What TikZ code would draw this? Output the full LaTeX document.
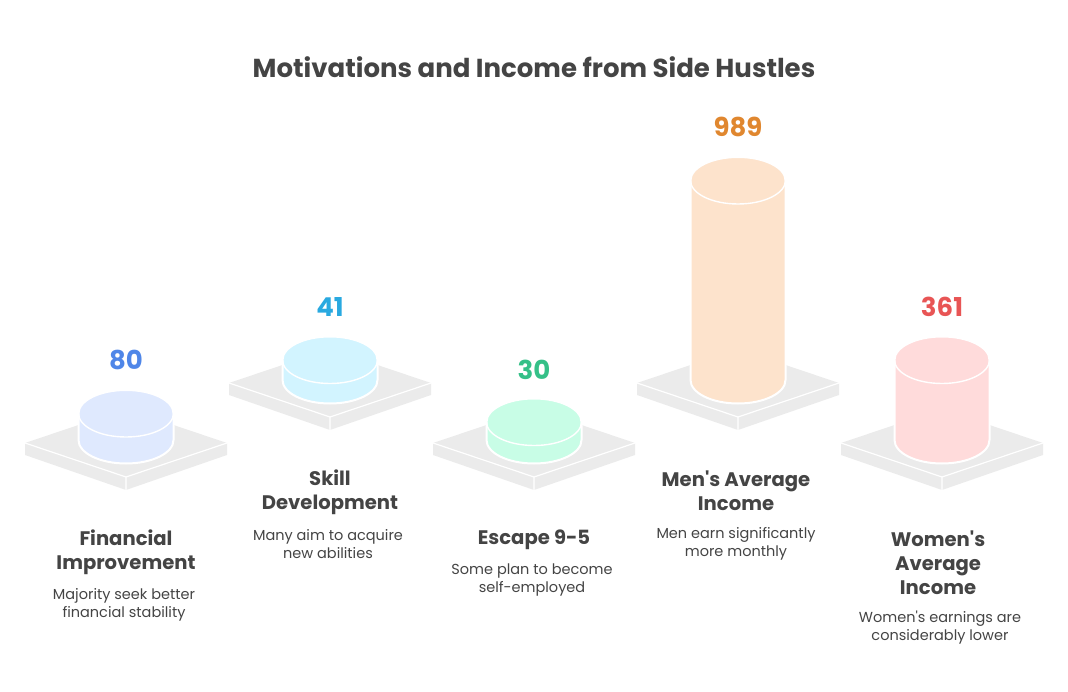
\documentclass[tikz,border=0pt]{standalone}
\usepackage{fontspec}
\setmainfont{Poppins}
\usepackage{xcolor}
\usetikzlibrary{positioning}
\definecolor{inkgray}{HTML}{444444}
\definecolor{platefill}{HTML}{EBEBEB}
\definecolor{blueval}{HTML}{4F86E8}
\definecolor{bluefill}{HTML}{DFE9FE}
\definecolor{cyanval}{HTML}{29A9E0}
\definecolor{cyanfill}{HTML}{D2F4FF}
\definecolor{greenval}{HTML}{35C088}
\definecolor{greenfill}{HTML}{C8FDE6}
\definecolor{orangeval}{HTML}{E0872F}
\definecolor{orangefill}{HTML}{FDE3CC}
\definecolor{redval}{HTML}{E85555}
\definecolor{redfill}{HTML}{FFDBDB}
\tikzset{
  barbody/.style={draw=white, line width=2pt},
  valuelabel/.style={font=\fontsize{26}{28}\selectfont\bfseries, inner sep=0pt},
  headlabel/.style={font=\fontsize{19.6}{24}\selectfont\bfseries, text=inkgray, align=center, inner sep=0pt},
  desclabel/.style={font=\fontsize{14.5}{18}\selectfont, text=inkgray, align=center, inner sep=0pt},
}
% #1 centre x, #2 y of plate's bottom tip, #3 y of cylinder top, #4 y of cylinder base, #5 colour
\newcommand{\hustlebar}[5]{
  \fill[platefill] (#1-101,#2-47) -- (#1,#2-81) -- (#1+101,#2-47) -- (#1+101,#2-35) -- (#1,#2) -- (#1-101,#2-35) -- cycle;
  \draw[white, line width=1.2pt] (#1-101,#2-47) -- (#1,#2-13) -- (#1+101,#2-47) (#1,#2-13) -- (#1,#2);
  \draw[barbody, fill=#5] (#1-47.5,#3) -- (#1-47.5,#4) arc[start angle=180, end angle=360, x radius=47.5, y radius=-23.5] -- (#1+47.5,#3) arc[start angle=0, end angle=180, x radius=47.5, y radius=-23.5] -- cycle;
  \draw[white, line width=1.4pt] (#1-47.5,#3) arc[start angle=180, end angle=360, x radius=47.5, y radius=-23.5];
}
\begin{document}
\begin{tikzpicture}[x=1pt,y=-1pt]
    \useasboundingbox (0,0) rectangle (1068,692);
    \node[font=\fontsize{26}{30}\selectfont\bfseries, text=inkgray, inner sep=0pt] (title) at (534,67) {Motivations and Income from Side Hustles};

    % Financial Improvement
    \hustlebar{126}{490}{413.5}{440}{bluefill}
    \node[valuelabel, text=blueval] (val1) at (126,360) {80};
    \node[headlabel] (head1) at (126,552) {Financial\\Improvement};
    \node[desclabel] (desc1) at (124,604.5) {Majority seek better\\financial stability};

    % Skill Development
    \hustlebar{330}{430}{360}{380}{cyanfill}
    \node[valuelabel, text=cyanval] (val2) at (330,307) {41};
    \node[headlabel] (head2) at (330,492) {Skill\\Development};
    \node[desclabel] (desc2) at (328,544) {Many aim to acquire\\new abilities};

    % Escape 9-5
    \hustlebar{534}{490}{422}{440}{greenfill}
    \node[valuelabel, text=greenval] (val3) at (534,370) {30};
    \node[headlabel] (head3) at (534,540) {Escape 9-5};
    \node[desclabel] (desc3) at (532,580) {Some plan to become\\self-employed};

    % Men's Average Income
    \hustlebar{738}{430}{180.5}{380}{orangefill}
    \node[valuelabel, text=orangeval] (val4) at (738,127) {989};
    \node[headlabel] (head4) at (736,490.5) {Men\textquotesingle s Average\\Income};
    \node[desclabel] (desc4) at (736,544) {Men earn significantly\\more monthly};

    % Women's Average Income
    \hustlebar{942}{490}{360}{440}{redfill}
    \node[valuelabel, text=redval] (val5) at (942,307) {361};
    \node[headlabel] (head5) at (938,562.5) {Women\textquotesingle s\\Average\\Income};
    \node[desclabel] (desc5) at (940,628) {Women\textquotesingle s earnings are\\considerably lower};
\end{tikzpicture}
\end{document}
